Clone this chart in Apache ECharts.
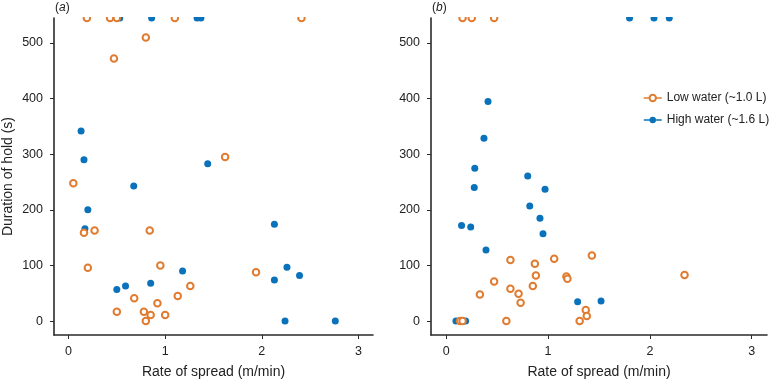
<!DOCTYPE html>
<html>
<head>
<meta charset="utf-8">
<script src="https://cdn.jsdelivr.net/npm/echarts@6/dist/echarts.min.js"></script>
<style>
  html, body { margin: 0; padding: 0; background: #fff; }
  #chart { width: 770px; height: 380px; }
</style>
</head>
<body>
<div id="chart"></div>
<script>
// panel (a) - [rate of spread m/min, duration of hold s]; 545 = off the top (clipped)
var lowA = [
  [0.19, 545], [0.43, 545], [0.50, 545], [1.10, 545], [2.41, 545],
  [0.80, 510], [0.47, 472], [0.05, 248], [1.62, 295],
  [0.16, 159], [0.27, 163], [0.84, 163], [0.20, 96], [0.95, 100],
  [0.68, 41], [1.13, 45], [1.26, 63], [0.92, 32], [0.50, 17],
  [0.78, 17], [0.85, 11], [1.00, 11], [0.80, 0], [1.94, 88]
];
var highA = [
  [0.53, 545], [0.86, 545], [1.33, 545], [1.37, 545],
  [0.13, 342], [0.16, 290], [0.675, 243], [1.44, 283],
  [0.20, 200], [0.17, 166], [1.18, 90], [0.50, 57], [0.59, 63],
  [0.85, 68], [2.13, 174], [2.13, 74], [2.26, 97], [2.39, 82],
  [2.24, 0], [2.76, 0]
];
// panel (b)
var lowB = [
  [0.16, 545], [0.25, 545], [0.47, 545],
  [0.63, 110], [0.87, 103], [1.06, 112], [0.47, 71], [0.88, 82],
  [1.18, 80], [1.19, 76], [0.63, 58], [0.85, 63], [0.33, 48],
  [0.71, 49], [0.73, 33], [0.59, 0], [0.135, 0], [0.16, 0],
  [1.31, 0], [1.43, 118], [2.34, 83], [1.37, 20], [1.38, 9]
];
var highB = [
  [1.80, 545], [2.04, 545], [2.19, 545],
  [0.41, 395], [0.37, 329], [0.28, 275], [0.275, 240], [0.80, 261],
  [0.97, 237], [0.82, 207], [0.92, 185], [0.15, 172], [0.24, 169],
  [0.95, 157], [0.39, 128], [0.095, 0], [0.19, 0], [1.29, 35], [1.52, 36]
];
var xTicks = [0, 1, 2, 3];
var yTicks = [0, 100, 200, 300, 400, 500];

var orange = '#E07B2F';
var blue = '#0A72BA';
var axisColor = '#2a2a2a';
var textColor = '#222';
var font = 'Liberation Sans';

var chart = echarts.init(document.getElementById('chart'));

function xAx(idx) {
  return {
    type: 'value', gridIndex: idx, min: -0.15, max: 3.15,
    name: 'Rate of spread (m/min)', nameLocation: 'middle', nameGap: 30,
    nameTextStyle: { fontFamily: font, fontSize: 14, color: textColor },
    axisLine: { show: true, onZero: false, lineStyle: { color: axisColor, width: 1.6 } },
    axisTick: { show: true, length: 4, customValues: xTicks, lineStyle: { color: axisColor } },
    axisLabel: { customValues: xTicks, margin: 10, fontFamily: font, fontSize: 12.5, color: textColor },
    splitLine: { show: false }
  };
}
function yAx(idx, withName) {
  return {
    type: 'value', gridIndex: idx, min: -25, max: 545,
    name: withName ? 'Duration of hold (s)' : '', nameLocation: 'middle', nameGap: 39,
    nameTextStyle: { fontFamily: font, fontSize: 14, color: textColor },
    axisLine: { show: true, onZero: false, lineStyle: { color: axisColor, width: 1.6 } },
    axisTick: { show: true, length: 4, customValues: yTicks, lineStyle: { color: axisColor } },
    axisLabel: { customValues: yTicks, margin: 11, fontFamily: font, fontSize: 12.5, color: textColor },
    splitLine: { show: false }
  };
}
function lowSeries(idx, data) {
  return {
    name: 'Low water (~1.0 L)', type: 'line', xAxisIndex: idx, yAxisIndex: idx,
    data: data, symbol: 'emptyCircle', symbolSize: 6.5, clip: false,
    lineStyle: { width: 0, opacity: 0 },
    itemStyle: { color: orange, borderColor: orange, borderWidth: 1 },
    emphasis: { disabled: true }, z: 3
  };
}
function highSeries(idx, data) {
  return {
    name: 'High water (~1.6 L)', type: 'line', xAxisIndex: idx, yAxisIndex: idx,
    data: data, symbol: 'circle', symbolSize: 7, clip: false,
    lineStyle: { width: 0, opacity: 0 },
    itemStyle: { color: blue, borderWidth: 0 },
    emphasis: { disabled: true }, z: 2
  };
}

var titleStyle = {
  fontFamily: font, fontSize: 12, fontWeight: 'normal', color: textColor,
  rich: { i: { fontFamily: font, fontSize: 12, fontStyle: 'italic', color: textColor } }
};

chart.setOption({
  animation: false,
  backgroundColor: '#fff',
  title: [
    { text: '({i|a})', left: 50, top: 0, padding: [2, 5], z: 200, textStyle: titleStyle },
    { text: '({i|b})', left: 427, top: 0, padding: [2, 5], z: 200, textStyle: titleStyle }
  ],
  grid: [
    { left: 54, top: 18, width: 319, height: 317, outerBoundsMode: 'none' },
    { left: 431, top: 18, width: 336, height: 317, outerBoundsMode: 'none' }
  ],
  xAxis: [xAx(0), xAx(1)],
  yAxis: [yAx(0, true), yAx(1, false)],
  legend: {
    orient: 'vertical', left: 643, top: 92, padding: 0,
    itemWidth: 18, itemHeight: 8, itemGap: 10,
    data: ['Low water (~1.0 L)', 'High water (~1.6 L)'],
    lineStyle: { width: 1.5, opacity: 1 },
    textStyle: { fontFamily: font, fontSize: 12, color: textColor }
  },
  // white band hiding the upper halves of the off-scale points
  graphic: [
    { type: 'rect', left: 0, top: 0, z: 100, silent: true,
      shape: { width: 770, height: 17 }, style: { fill: '#fff' } }
  ],
  series: [
    lowSeries(0, lowA), highSeries(0, highA),
    lowSeries(1, lowB), highSeries(1, highB)
  ]
});
</script>
</body>
</html>
